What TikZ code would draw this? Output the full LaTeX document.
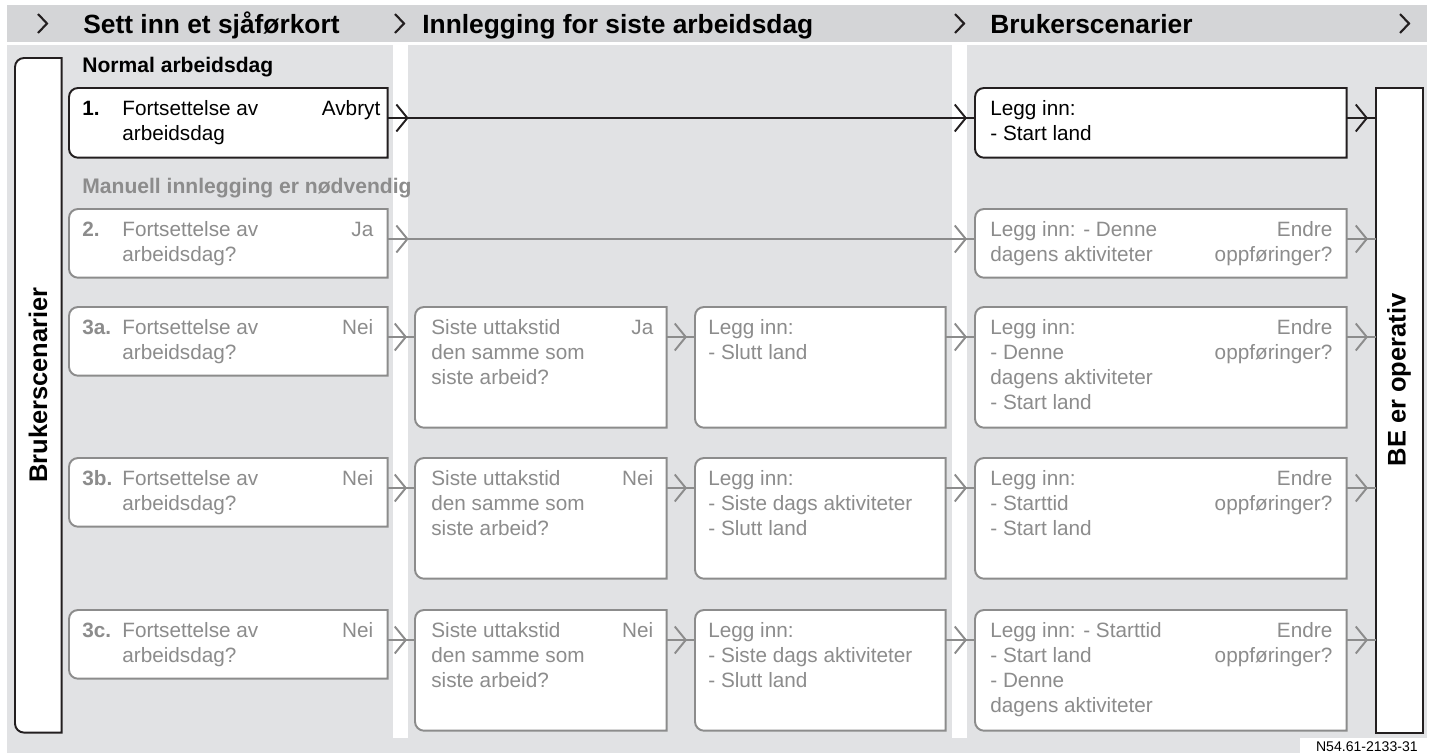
\documentclass[tikz,border=0pt]{standalone}
\usepackage{fontspec}
\setmainfont{Liberation Sans}
\usetikzlibrary{calc,arrows.meta,decorations.markings}
\definecolor{ink}{HTML}{231F20}
\definecolor{mute}{HTML}{8C8C8C}
\definecolor{band}{HTML}{D4D5D7}
\definecolor{panel}{HTML}{E1E2E4}

\begin{document}
\begin{tikzpicture}[
x=0.02cm,y=-0.02cm,
card/.style={
	anchor=north west,
	inner sep=0pt,
	minimum height=1.36cm
},
tall/.style={
	card,
	minimum height=2.4cm
},
outline/.style={
	fill=white,
	line width=1.1pt
},
body/.style={
	anchor=north west,
	inner sep=0pt,
	align=left,
	font=\fontsize{11.8}{14.2}\selectfont
},
num/.style={body,font=\fontsize{11.8}{14.2}\selectfont\bfseries},
ans/.style={body,anchor=north east,align=right},
head/.style={anchor=base west,inner sep=0pt,font=\fontsize{15}{18}\selectfont\bfseries},
sect/.style={anchor=base west,inner sep=0pt,font=\fontsize{12}{14}\selectfont\bfseries},
big/.style={rotate=90,inner sep=0pt,font=\fontsize{14.5}{17}\selectfont\bfseries},
conn/.style={
	line width=1.1pt,
	postaction={decorate},
	decoration={markings,
		mark=at position -1.6mm with {\arrow{Straight Barb[length=2.2mm,width=5.4mm]}}}
},
far/.style={
	line width=1.1pt,
	postaction={decorate},
	decoration={markings,
		mark=at position 4.2mm with {\arrow{Straight Barb[length=2.2mm,width=5.4mm]}},
		mark=at position -1.6mm with {\arrow{Straight Barb[length=2.2mm,width=5.4mm]}}}
}
]
\useasboundingbox (0,0) rectangle (1429,755);

% background bands
\fill[band] (7,5) rectangle (1427,42);
\fill[panel] (7,45) rectangle (1427,753);
\fill[white] (393,45) rectangle (408,738);
\fill[white] (952,45) rectangle (967,738);
\fill[white] (1300,738) rectangle (1429,755);

\foreach \x in {38,395,955,1400}
	\draw[ink,line width=1.2pt] (\x,14) -- (\x+9,23.5) -- (\x,33);
\node[head] (h1) at (83,33.5) {Sett inn et sjåførkort};
\node[head] (h2) at (422,33.5) {Innlegging for siste arbeidsdag};
\node[head] (h3) at (990,33.5) {Brukerscenarier};

\node[sect] (lbl1) at (82,72) {Normal arbeidsdag};
\node[sect,mute] (lbl2) at (82,193) {Manuell innlegging er nødvendig};

% boxes
\node[card,minimum width=0.92cm,minimum height=13.48cm] (side) at (15,58) {};
\node[card,minimum width=0.92cm,minimum height=12.88cm] (be) at (1376,88) {};

\node[card,minimum width=6.36cm,minimum height=1.38cm] (a1) at (69,88) {};
\node[card,minimum width=7.42cm,minimum height=1.38cm] (d1) at (975,88) {};
\node[card,minimum width=6.36cm] (a2) at (69,209) {};
\node[card,minimum width=7.42cm] (d2) at (975,209) {};

\node[card,minimum width=6.36cm] (a3a) at (69,307) {};
\node[tall,minimum width=5.02cm] (b3a) at (415,307) {};
\node[tall,minimum width=5.0cm] (c3a) at (695,307) {};
\node[tall,minimum width=7.42cm] (d3a) at (975,307) {};

\node[card,minimum width=6.36cm] (a3b) at (69,458) {};
\node[tall,minimum width=5.02cm] (b3b) at (415,458) {};
\node[tall,minimum width=5.0cm] (c3b) at (695,458) {};
\node[tall,minimum width=7.42cm] (d3b) at (975,458) {};

\node[card,minimum width=6.36cm] (a3c) at (69,610) {};
\node[tall,minimum width=5.02cm] (b3c) at (415,610) {};
\node[tall,minimum width=5.0cm] (c3c) at (695,610) {};
\node[tall,minimum width=7.42cm] (d3c) at (975,610) {};

\foreach \n/\c in {side/ink,a1/ink,d1/ink,a2/mute,d2/mute,
	a3a/mute,b3a/mute,c3a/mute,d3a/mute,
	a3b/mute,b3b/mute,c3b/mute,d3b/mute,
	a3c/mute,b3c/mute,c3c/mute,d3c/mute}
	\draw[outline,draw=\c] (\n.north) [rounded corners=1.8mm] -- (\n.north west)
		-- (\n.south west) -- (\n.south) [sharp corners] -- (\n.south east)
		-- (\n.north east) -- cycle;
\draw[outline,draw=ink] (be.north west) rectangle (be.south east);

\node[big] (sidet) at (38,385) {Brukerscenarier};
\node[big] (bet) at (1399,380) {BE er operativ};

% texts
\node[num] (a1n) at ($(a1.north west)+(13,9.5)$) {\strut 1.};
\node[body] (a1t) at ($(a1.north west)+(53,9.5)$) {\strut Fortsettelse av\\arbeidsdag};
\node[ans] (a1r) at ($(a1.north east)+(-7,9.5)$) {\strut Avbryt};
\node[body] (d1t) at ($(d1.north west)+(15,9.5)$) {\strut Legg inn:\\- Start land};

\begin{scope}[mute]
\node[num] (a2n) at ($(a2.north west)+(13,9.5)$) {\strut 2.};
\node[body] (a2t) at ($(a2.north west)+(53,9.5)$) {\strut Fortsettelse av\\arbeidsdag?};
\node[ans] (a2r) at ($(a2.north east)+(-14,9.5)$) {\strut Ja};
\node[body] (d2t) at ($(d2.north west)+(15,9.5)$) {\strut Legg inn: - Denne\\dagens aktiviteter};
\node[ans] (d2r) at ($(d2.north east)+(-14,9.5)$) {\strut Endre\\oppføringer?};

\node[num] (a3an) at ($(a3a.north west)+(13,9.5)$) {\strut 3a.};
\node[body] (a3at) at ($(a3a.north west)+(53,9.5)$) {\strut Fortsettelse av\\arbeidsdag?};
\node[ans] (a3ar) at ($(a3a.north east)+(-14,9.5)$) {\strut Nei};
\node[body] (b3at) at ($(b3a.north west)+(16,9.5)$) {\strut Siste uttakstid\\den samme som\\siste arbeid?};
\node[ans] (b3ar) at ($(b3a.north east)+(-13,9.5)$) {\strut Ja};
\node[body] (c3at) at ($(c3a.north west)+(13,9.5)$) {\strut Legg inn:\\- Slutt land};
\node[body] (d3at) at ($(d3a.north west)+(15,9.5)$) {\strut Legg inn:\\- Denne\\dagens aktiviteter\\- Start land};
\node[ans] (d3ar) at ($(d3a.north east)+(-14,9.5)$) {\strut Endre\\oppføringer?};

\node[num] (a3bn) at ($(a3b.north west)+(13,9.5)$) {\strut 3b.};
\node[body] (a3bt) at ($(a3b.north west)+(53,9.5)$) {\strut Fortsettelse av\\arbeidsdag?};
\node[ans] (a3br) at ($(a3b.north east)+(-14,9.5)$) {\strut Nei};
\node[body] (b3bt) at ($(b3b.north west)+(16,9.5)$) {\strut Siste uttakstid\\den samme som\\siste arbeid?};
\node[ans] (b3br) at ($(b3b.north east)+(-13,9.5)$) {\strut Nei};
\node[body] (c3bt) at ($(c3b.north west)+(13,9.5)$) {\strut Legg inn:\\- Siste dags aktiviteter\\- Slutt land};
\node[body] (d3bt) at ($(d3b.north west)+(15,9.5)$) {\strut Legg inn:\\- Starttid\\- Start land};
\node[ans] (d3br) at ($(d3b.north east)+(-14,9.5)$) {\strut Endre\\oppføringer?};

\node[num] (a3cn) at ($(a3c.north west)+(13,9.5)$) {\strut 3c.};
\node[body] (a3ct) at ($(a3c.north west)+(53,9.5)$) {\strut Fortsettelse av\\arbeidsdag?};
\node[ans] (a3cr) at ($(a3c.north east)+(-14,9.5)$) {\strut Nei};
\node[body] (b3ct) at ($(b3c.north west)+(16,9.5)$) {\strut Siste uttakstid\\den samme som\\siste arbeid?};
\node[ans] (b3cr) at ($(b3c.north east)+(-13,9.5)$) {\strut Nei};
\node[body] (c3ct) at ($(c3c.north west)+(13,9.5)$) {\strut Legg inn:\\- Siste dags aktiviteter\\- Slutt land};
\node[body] (d3ct) at ($(d3c.north west)+(15,9.5)$) {\strut Legg inn: - Starttid\\- Start land\\- Denne\\dagens aktiviteter};
\node[ans] (d3cr) at ($(d3c.north east)+(-14,9.5)$) {\strut Endre\\oppføringer?};
\end{scope}

% connectors
\draw[far,ink] ([yshift=-6mm]a1.north east) -- ([yshift=-6mm]d1.north west);
\draw[conn,ink] ([yshift=-6mm]d1.north east) -- ([yshift=-6mm]d1.north east -| be.west);
\begin{scope}[mute]
\draw[far] ([yshift=-6mm]a2.north east) -- ([yshift=-6mm]d2.north west);
\draw[conn] ([yshift=-6mm]d2.north east) -- ([yshift=-6mm]d2.north east -| be.west);
\foreach \r in {3a,3b,3c} {
	\draw[conn] ([yshift=-6mm]a\r.north east) -- ([yshift=-6mm]b\r.north west);
	\draw[conn] ([yshift=-6mm]b\r.north east) -- ([yshift=-6mm]c\r.north west);
	\draw[conn] ([yshift=-6mm]c\r.north east) -- ([yshift=-6mm]d\r.north west);
	\draw[conn] ([yshift=-6mm]d\r.north east) -- ([yshift=-6mm]d\r.north east -| be.west);
}
\end{scope}

\node[anchor=base east,inner sep=0pt,font=\fontsize{8}{9}\selectfont] (ref) at (1418,751) {N54.61-2133-31};
\end{tikzpicture}
\end{document}
